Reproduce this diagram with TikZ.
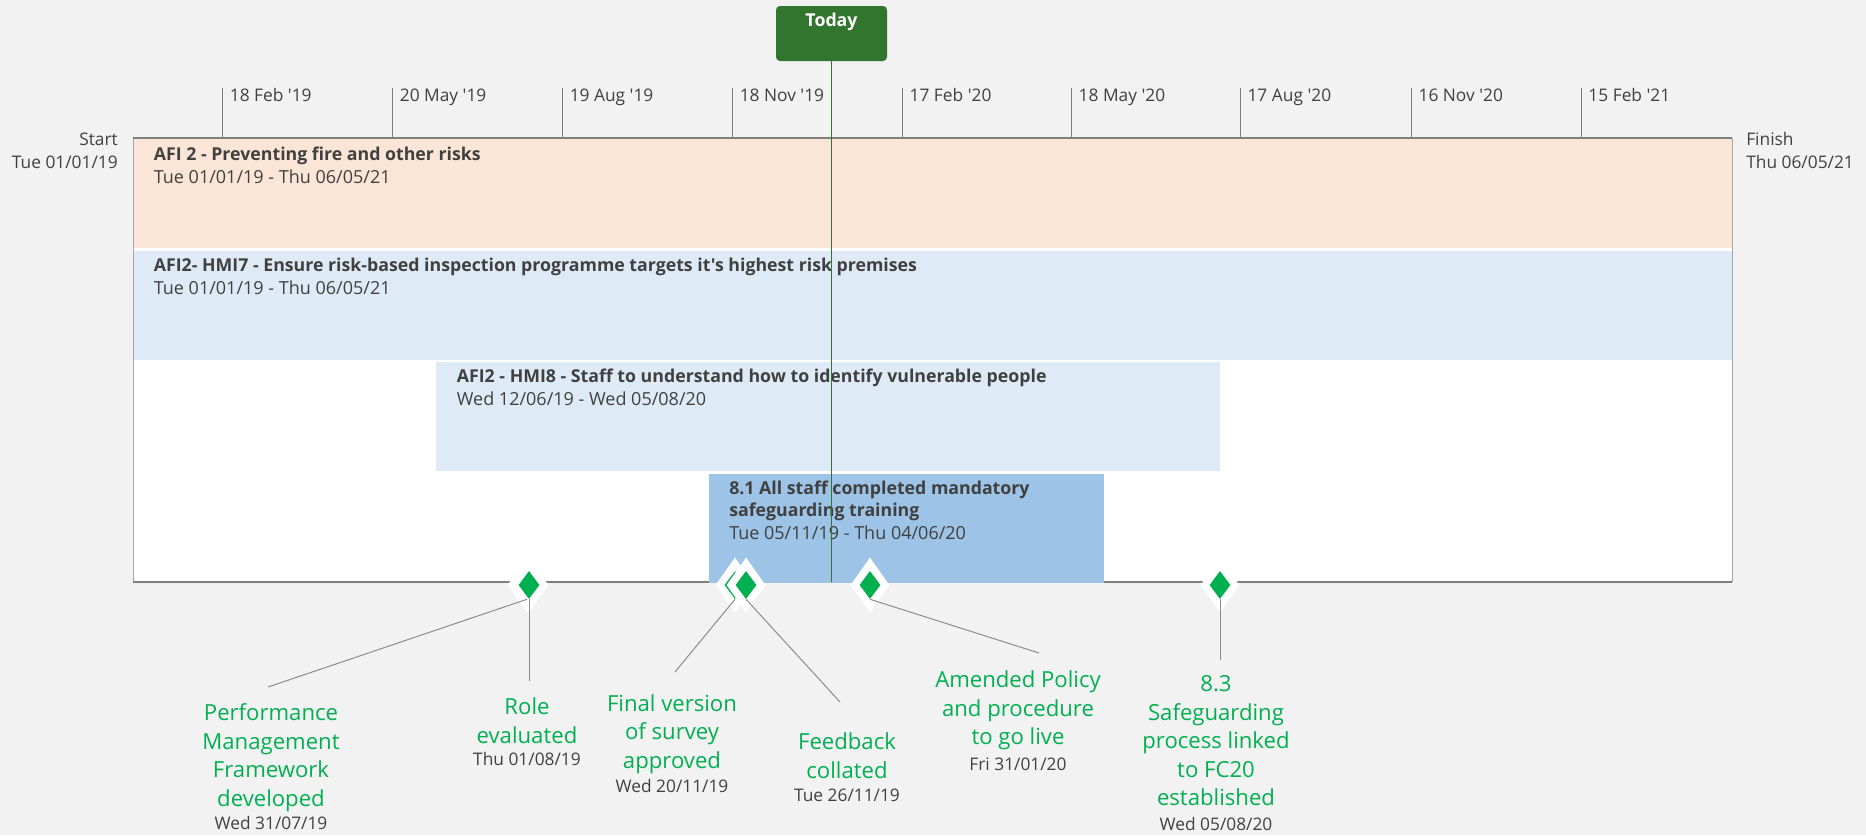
\documentclass[tikz,border=0pt]{standalone}
\usepackage{fontspec}
\setmainfont{Open Sans}[Ligatures=TeXOff]
\usetikzlibrary{shapes.geometric}
\definecolor{bg}{HTML}{F2F2F2}
\definecolor{orangebar}{HTML}{FBE5D6}
\definecolor{lightblue}{HTML}{DEEBF7}
\definecolor{midblue}{HTML}{9DC3E6}
\definecolor{msgreen}{HTML}{00B050}
\definecolor{todaygreen}{HTML}{31752F}
\definecolor{txt}{HTML}{404040}
\definecolor{axisgray}{HTML}{7F7F7F}
\definecolor{framegray}{HTML}{A6A6A6}
\definecolor{leadgray}{HTML}{8C8C8C}
\tikzset{
  bartitle/.style={font=\fontsize{13.3}{16.5}\selectfont\bfseries, text=txt, inner sep=0pt, align=left},
  bardate/.style={font=\fontsize{13.5}{16}\selectfont, text=txt, inner sep=0pt, anchor=base west},
  axislabel/.style={font=\fontsize{13}{16}\selectfont, text=txt, inner sep=0pt, anchor=base west},
  sidelabel/.style={font=\fontsize{13}{16}\selectfont, text=txt, inner sep=0pt},
  msname/.style={font=\fontsize{16.6}{21.4}\selectfont, text=msgreen, align=center, inner sep=0pt},
  msdate/.style={font=\fontsize{13}{16}\selectfont, text=txt, inner sep=0pt},
  halo/.style={diamond, fill=white, minimum width=29.25pt, minimum height=41.25pt, inner sep=0pt},
  msmark/.style={diamond, fill=msgreen, minimum width=15.75pt, minimum height=21pt, inner sep=0pt},
  leader/.style={draw=leadgray, line width=0.75pt},
  tickline/.style={draw=axisgray, line width=0.75pt},
  todaybox/.style={rectangle, rounded corners=3pt, fill=todaygreen, minimum width=83.25pt, minimum height=41.25pt, inner sep=0pt},
}
\begin{document}
\begin{tikzpicture}[x=0.75pt,y=-0.75pt]
\useasboundingbox (0,0) rectangle (1866,835);
\fill[bg] (0,0) rectangle (1866,835);
% frame
\fill[white] (133,138) rectangle (1732,582);
\draw[framegray, line width=0.75pt] (133,138) -- (133,582);
\draw[framegray, line width=0.75pt] (1732,138) -- (1732,582);
% bars
\fill[orangebar] (133.5,138) rectangle (1731.5,248);
\fill[lightblue] (133.5,251) rectangle (1731.5,360);
\fill[lightblue] (435.6,362) rectangle (1220,471);
\draw[axisgray, line width=1.5pt] (133,582) -- (1732,582);
\fill[midblue] (709,474) rectangle (1104,583);
\draw[axisgray, line width=1.5pt] (133,138) -- (1732,138);
% ticks
\foreach \x in {222.6,392.6,562.5,732.5,902.4,1071.4,1240.3,1411.3,1581.2}
  \draw[tickline] (\x,88) -- (\x,138);
\node[axislabel] (t1) at (229.6,101) {18 Feb '19};
\node[axislabel] (t2) at (399.6,101) {20 May '19};
\node[axislabel] (t3) at (569.5,101) {19 Aug '19};
\node[axislabel] (t4) at (739.5,101) {18 Nov '19};
\node[axislabel] (t5) at (909.4,101) {17 Feb '20};
\node[axislabel] (t6) at (1078.4,101) {18 May '20};
\node[axislabel] (t7) at (1247.3,101) {17 Aug '20};
\node[axislabel] (t8) at (1418.3,101) {16 Nov '20};
\node[axislabel] (t9) at (1588.2,101) {15 Feb '21};
% start / finish
\node[sidelabel, anchor=base east] (st1) at (118,145) {Start};
\node[sidelabel, anchor=base east] (st2) at (118,168) {Tue 01/01/19};
\node[sidelabel, anchor=base west] (fi1) at (1746,145) {Finish};
\node[sidelabel, anchor=base west] (fi2) at (1746,168) {Thu 06/05/21};
% bar texts
\node[bartitle, anchor=base west] (b1) at (153.6,160) {AFI 2 - Preventing fire and other risks};
\node[bardate] (b1d) at (153.6,183.5) {Tue 01/01/19 - Thu 06/05/21};
\node[bartitle, anchor=base west] (b2) at (153.6,271) {AFI2- HMI7 - Ensure risk-based inspection programme targets it's highest risk premises};
\node[bardate] (b2d) at (153.6,294.5) {Tue 01/01/19 - Thu 06/05/21};
\node[bartitle, anchor=base west] (b3) at (456.6,382) {AFI2 - HMI8 - Staff to understand how to identify vulnerable people};
\node[bardate] (b3d) at (456.6,405.5) {Wed 12/06/19 - Wed 05/08/20};
\node[bartitle, anchor=west] (b4) at (729,500.7) {8.1 All staff completed mandatory\\safeguarding training};
\node[bardate] (b4d) at (729,539.5) {Tue 05/11/19 - Thu 04/06/20};
% today
\node[todaybox] (today) at (831.5,33.5) {};
\node[font=\fontsize{13.3}{16}\selectfont\bfseries, text=white, inner sep=0pt, anchor=base] (todaytext) at (831.5,26.5) {Today};
\coordinate (todayend) at (831.5,582);
\draw[todaygreen, line width=0.75pt] (today.south) -- (todayend);
% milestones
\node[halo] (h1) at (527,585) {}; \node[msmark] (m1) at (527,585) {};
\node[halo] (h2) at (529,585) {}; \node[msmark] (m2) at (529,585) {};
\node[halo] (h3) at (735,585) {}; \node[msmark] (m3) at (735,585) {};
\node[halo] (h4) at (746,585) {}; \node[msmark] (m4) at (746,585) {};
\node[halo] (h5) at (870,585) {}; \node[msmark] (m5) at (870,585) {};
\node[halo] (h6) at (1220,585) {}; \node[msmark] (m6) at (1220,585) {};
% leader ends
\coordinate (e1) at (268,687);
\coordinate (e2) at (529,681);
\coordinate (e3) at (675,672);
\coordinate (e4) at (840,702);
\coordinate (e5) at (1039,653);
\coordinate (e6) at (1220,660);
\draw[leader] (m1.south) -- (e1);
\draw[leader] (m2.south) -- (e2);
\draw[leader] (m3.south) -- (e3);
\draw[leader] (m4.south) -- (e4);
\draw[leader] (m5.south) -- (e5);
\draw[leader] (m6.south) -- (e6);
% labels
\node[msname] (l1) at (271,757.5) {Performance\\Management\\Framework\\developed};
\node[msdate] (d1) at (271,823) {Wed 31/07/19};
\node[msname] (l2) at (527,720.5) {Role\\evaluated};
\node[msdate] (d2) at (527,759) {Thu 01/08/19};
\node[msname] (l3) at (672,734) {Final version\\of survey\\approved};
\node[msdate] (d3) at (672,786) {Wed 20/11/19};
\node[msname] (l4) at (847,755.5) {Feedback\\collated};
\node[msdate] (d4) at (847,795) {Tue 26/11/19};
\node[msname] (l5) at (1018,710.5) {Amended Policy\\and procedure\\to go live};
\node[msdate] (d5) at (1018,764) {Fri 31/01/20};
\node[msname] (l6) at (1216,741) {8.3\\Safeguarding\\process linked\\to FC20\\established};
\node[msdate] (d6) at (1216,824) {Wed 05/08/20};
\end{tikzpicture}
\end{document}
